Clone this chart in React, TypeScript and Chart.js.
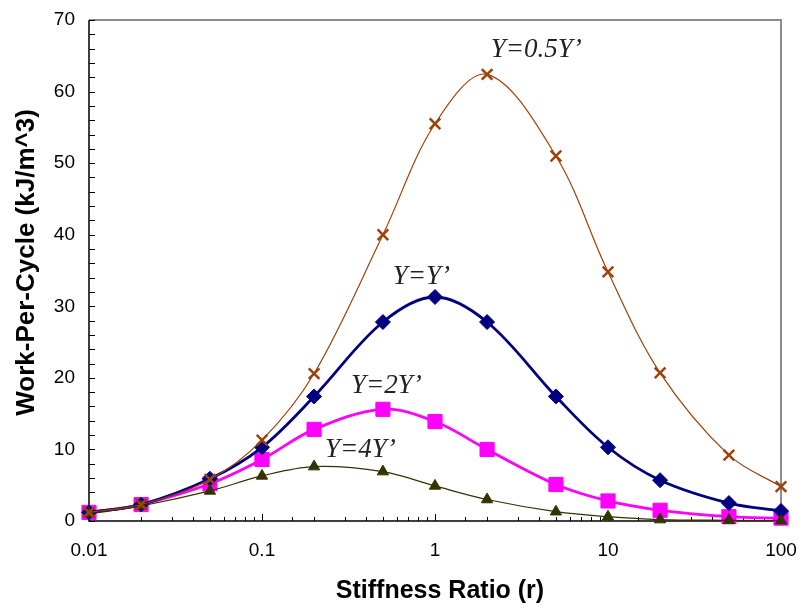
import React, { useEffect, useRef } from 'react';
import { Chart, registerables } from 'chart.js';
Chart.register(...registerables);

const stiffness = [0.01, 0.02, 0.05, 0.1, 0.2, 0.5, 1, 2, 5, 10, 20, 50, 100];
const halfY = [1.2, 2.3, 5.8, 11.3, 20.6, 40.0, 55.5, 62.4, 51.0, 34.8, 20.7, 9.2, 4.8];
const oneY = [1.2, 2.3, 5.9, 10.3, 17.4, 27.8, 31.3, 27.8, 17.4, 10.3, 5.7, 2.5, 1.4];
const twoY = [1.2, 2.3, 5.2, 8.6, 12.8, 15.6, 13.9, 10.0, 5.1, 2.8, 1.5, 0.6, 0.4];
const fourY = [1.0, 2.1, 4.2, 6.3, 7.6, 6.9, 4.9, 3.0, 1.3, 0.6, 0.2, 0.1, 0.05];

const xTickLabels = ['0.01', '0.1', '1', '10', '100'];

const seriesLabels = ["Y=0.5Y\u2019", "Y=Y\u2019", "Y=2Y\u2019", "Y=4Y\u2019"];
// label anchors (data units): left x, baseline y
const labelX = [2.1, 0.57, 0.327, 0.231];
const labelY = [64.9, 33.1, 17.9, 8.9];

const xTitle = 'Stiffness Ratio (r)';
const yTitle = 'Work-Per-Cycle (kJ/m^3)';

const yMin = 0;
const yMax = 70;
const yMinorStep = 2;
const xMin = 0.01;
const xMax = 100;

const SANS = '"Liberation Sans", Arial, sans-serif';

const isDecade = (v: number) => Math.abs(Math.log10(v) - Math.round(Math.log10(v))) < 1e-6;

const framePlugin = {
  id: 'frameTicks',
  beforeDatasetsDraw(chart: any) {
    const { ctx, chartArea: a, scales } = chart;
    ctx.save();
    ctx.strokeStyle = '#8c8c8c';
    ctx.lineWidth = 2;
    ctx.beginPath();
    ctx.moveTo(a.left, a.top);
    ctx.lineTo(a.right, a.top);
    ctx.lineTo(a.right, a.bottom);
    ctx.stroke();
    ctx.strokeStyle = '#000';
    ctx.lineWidth = 1.5;
    ctx.beginPath();
    ctx.moveTo(a.left, a.top);
    ctx.lineTo(a.left, a.bottom);
    ctx.lineTo(a.right, a.bottom);
    ctx.stroke();
    ctx.lineWidth = 1;
    ctx.beginPath();
    scales.y.ticks.forEach((t: any) => {
      const py = Math.round(scales.y.getPixelForValue(t.value)) + 0.5;
      ctx.moveTo(a.left, py);
      ctx.lineTo(a.left + 6, py);
    });
    scales.x.ticks.forEach((t: any) => {
      const px = Math.round(scales.x.getPixelForValue(t.value)) + 0.5;
      const len = isDecade(t.value) ? 7 : 4;
      ctx.moveTo(px, a.bottom);
      ctx.lineTo(px, a.bottom - len);
    });
    ctx.stroke();
    // x tick labels
    ctx.fillStyle = '#000';
    ctx.font = '19px ' + SANS;
    ctx.textAlign = 'center';
    ctx.textBaseline = 'middle';
    xTickLabels.forEach((s) => {
      ctx.fillText(s, scales.x.getPixelForValue(Number(s)), a.bottom + 30);
    });
    ctx.restore();
  },
  afterDatasetsDraw(chart: any) {
    const { ctx, scales, chartArea: a } = chart;
    ctx.save();
    ctx.font = 'italic 27px "Liberation Serif", "Times New Roman", serif';
    ctx.fillStyle = '#222';
    ctx.textAlign = 'left';
    ctx.textBaseline = 'alphabetic';
    seriesLabels.forEach((s, i) => {
      ctx.fillText(s, scales.x.getPixelForValue(labelX[i]), scales.y.getPixelForValue(labelY[i]));
    });
    // axis titles
    ctx.fillStyle = '#000';
    ctx.textAlign = 'center';
    ctx.textBaseline = 'middle';
    ctx.font = 'bold 25px ' + SANS;
    ctx.fillText(xTitle, (a.left + a.right) / 2 + 5, a.bottom + 70);
    ctx.translate(19, (a.top + a.bottom) / 2 - 8);
    ctx.rotate(-Math.PI / 2);
    ctx.font = 'bold 26px ' + SANS;
    ctx.fillText(yTitle, 0, 0);
    ctx.restore();
  },
};

export default function App() {
  const ref = useRef<HTMLCanvasElement>(null);
  useEffect(() => {
    const mk = (x: number[], y: number[]) => x.map((v, i) => ({ x: v, y: y[i] }));
    const chart = new Chart(ref.current!, {
      type: 'line',
      data: {
        datasets: [
          {
            label: seriesLabels[0], data: mk(stiffness, halfY), borderColor: '#A0400A', backgroundColor: '#A0400A',
            borderWidth: 1.2, pointStyle: 'crossRot', pointRadius: 7.5, pointBorderWidth: 2.5, tension: 0.35,
          },
          {
            label: seriesLabels[3], data: mk(stiffness, fourY), borderColor: '#333300', backgroundColor: '#333300',
            borderWidth: 1.2, pointStyle: 'triangle', pointRadius: 6.5, pointBorderWidth: 1, tension: 0.35,
          },
          {
            label: seriesLabels[1], data: mk(stiffness, oneY), borderColor: '#000080', backgroundColor: '#000080',
            borderWidth: 2.8, pointStyle: 'rectRot', pointRadius: 7.5, pointBorderWidth: 1, tension: 0.35,
          },
          {
            label: seriesLabels[2], data: mk(stiffness, twoY), borderColor: '#FF00FF', backgroundColor: '#FF00FF',
            borderWidth: 2.8, pointStyle: 'rect', pointRadius: 10, pointBorderWidth: 1, tension: 0.35,
          },
        ],
      },
      options: {
        animation: false,
        responsive: false,
        clip: false as any,
        layout: { padding: { top: 12, right: 21, left: 0, bottom: 0 } },
        plugins: { legend: { display: false }, tooltip: { enabled: false } },
        scales: {
          x: {
            type: 'logarithmic',
            min: xMin,
            max: xMax,
            grid: { display: false, drawTicks: false },
            border: { display: false },
            ticks: { display: false, autoSkip: false },
            afterFit: (s: any) => { s.height = 83; s.paddingLeft = 0; s.paddingRight = 0; },
          },
          y: {
            min: yMin,
            max: yMax,
            grid: { display: false, drawTicks: false },
            border: { display: false },
            ticks: {
              stepSize: yMinorStep,
              autoSkip: false,
              padding: 14,
              color: '#000',
              font: { family: SANS, size: 19 },
              callback: (v: any) => (Number(v) % 10 === 0 ? String(v) : ''),
            },
            afterFit: (s: any) => { s.width = 81; s.paddingTop = 0; s.paddingBottom = 0; },
          },
        },
      },
      plugins: [framePlugin],
    });
    return () => chart.destroy();
  }, []);
  return (
    <div style={{ position: 'absolute', left: 8, top: 8, width: 794, height: 596 }}>
      <canvas ref={ref} width={794} height={596} style={{ display: 'block' }} />
    </div>
  );
}
